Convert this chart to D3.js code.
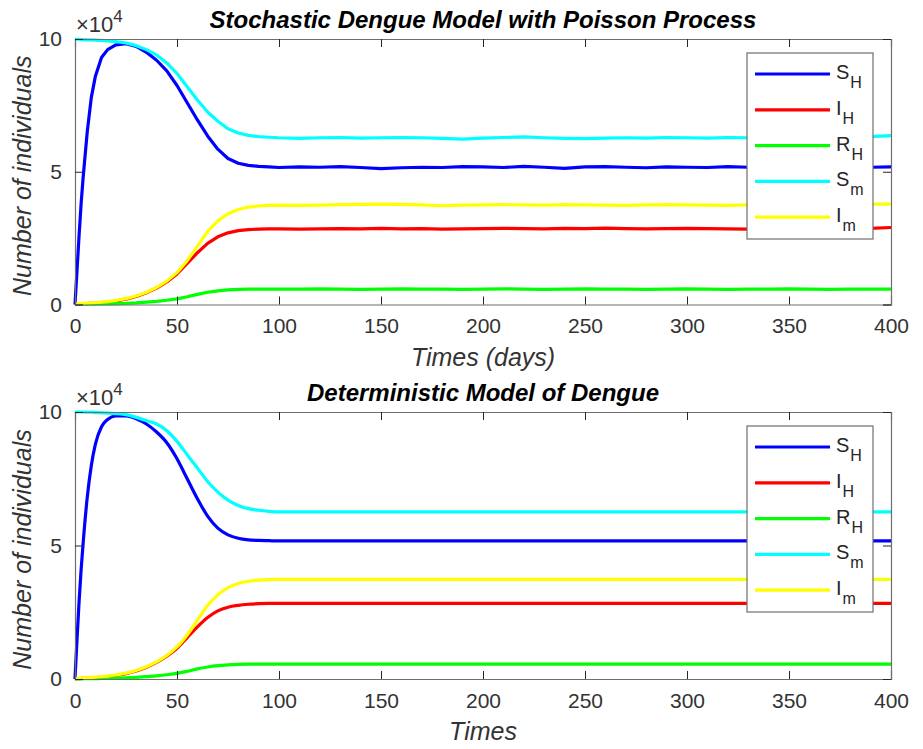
<!DOCTYPE html>
<html>
<head>
<meta charset="utf-8">
<title>Dengue models</title>
<script src="https://d3js.org/d3.v7.min.js"></script>
<style>
  body { margin: 0; background: #fff; }
  text { font-family: "Liberation Sans", Arial, Helvetica, sans-serif; }
</style>
</head>
<body>
<script>
// time grid (days)
var days = [0, 1, 2, 3, 4, 6, 8, 10, 13, 16, 20, 25, 30, 35, 40, 45, 50, 55, 60, 65, 70, 75, 80, 85, 90, 95,
  100, 110, 120, 130, 140, 150, 160, 170, 180, 190, 200, 210, 220, 230, 240, 250, 260, 270, 280, 290,
  300, 310, 320, 330, 340, 350, 360, 370, 380, 390, 400];

var xTicks = [0, 50, 100, 150, 200, 250, 300, 350, 400];
var yTicks = [0, 5, 10];

var seriesNames = ['S_H', 'I_H', 'R_H', 'S_m', 'I_m'];
var seriesColors = ['#0000ff', '#ff0000', '#00ff00', '#00ffff', '#ffff00'];

// stochastic model (x 10^4)
var stoSH = [0, 1.3, 2.6, 3.8, 4.8, 6.5, 7.8, 8.6, 9.3, 9.6, 9.78, 9.82, 9.72, 9.5, 9.2, 8.8, 8.25, 7.6, 6.95, 6.35, 5.85, 5.5, 5.32, 5.24, 5.2, 5.18,
  5.16, 5.18, 5.17, 5.19, 5.16, 5.12, 5.15, 5.17, 5.16, 5.19, 5.18, 5.16, 5.2, 5.17, 5.13, 5.18, 5.19, 5.17, 5.15, 5.18, 5.17, 5.16, 5.19, 5.17, 5.15, 5.18, 5.16, 5.17, 5.14, 5.17, 5.18];
var stoIH = [0, 0.01, 0.01, 0.02, 0.02, 0.03, 0.04, 0.05, 0.07, 0.09, 0.13, 0.2, 0.3, 0.44, 0.62, 0.85, 1.15, 1.55, 1.95, 2.3, 2.55, 2.7, 2.78, 2.82, 2.84, 2.85,
  2.85, 2.84, 2.85, 2.86, 2.85, 2.87, 2.85, 2.86, 2.84, 2.85, 2.86, 2.87, 2.86, 2.85, 2.87, 2.86, 2.88, 2.86, 2.85, 2.86, 2.87, 2.86, 2.85, 2.84, 2.85, 2.86, 2.87, 2.86, 2.85, 2.87, 2.9];
var stoRH = [0, 0, 0, 0, 0.01, 0.01, 0.01, 0.01, 0.02, 0.02, 0.03, 0.04, 0.06, 0.09, 0.12, 0.16, 0.21, 0.29, 0.38, 0.46, 0.51, 0.55, 0.57, 0.58, 0.58, 0.58,
  0.58, 0.58, 0.59, 0.58, 0.57, 0.58, 0.59, 0.58, 0.58, 0.57, 0.58, 0.59, 0.58, 0.57, 0.58, 0.59, 0.58, 0.58, 0.57, 0.58, 0.59, 0.58, 0.57, 0.58, 0.58, 0.59, 0.58, 0.57, 0.58, 0.58, 0.58];
var stoSm = [10, 9.99, 9.99, 9.98, 9.98, 9.97, 9.97, 9.96, 9.95, 9.93, 9.9, 9.85, 9.75, 9.6, 9.4, 9.1, 8.7, 8.2, 7.7, 7.25, 6.9, 6.62, 6.46, 6.37, 6.32, 6.3,
  6.28, 6.26, 6.28, 6.29, 6.27, 6.28, 6.29, 6.28, 6.26, 6.23, 6.27, 6.29, 6.31, 6.28, 6.26, 6.25, 6.27, 6.28, 6.27, 6.29, 6.28, 6.27, 6.29, 6.28, 6.27, 6.29, 6.28, 6.3, 6.31, 6.32, 6.36];
var stoIm = [0.02, 0.02, 0.03, 0.03, 0.04, 0.05, 0.06, 0.07, 0.09, 0.11, 0.15, 0.22, 0.32, 0.46, 0.64, 0.88, 1.2, 1.65, 2.2, 2.75, 3.15, 3.42, 3.58, 3.67, 3.71, 3.73,
  3.74, 3.73, 3.74, 3.76, 3.77, 3.78, 3.77, 3.75, 3.72, 3.74, 3.75, 3.76, 3.75, 3.74, 3.76, 3.75, 3.74, 3.73, 3.75, 3.76, 3.75, 3.74, 3.73, 3.75, 3.76, 3.75, 3.74, 3.76, 3.77, 3.78, 3.78];

// deterministic model (x 10^4)
var detSH = [0, 1.5, 2.9, 4.1, 5.1, 6.8, 8.0, 8.8, 9.45, 9.72, 9.85, 9.85, 9.75, 9.55, 9.25, 8.85, 8.25, 7.5, 6.75, 6.1, 5.65, 5.4, 5.27, 5.21, 5.19, 5.18,
  5.17, 5.17, 5.17, 5.17, 5.17, 5.17, 5.17, 5.17, 5.17, 5.17, 5.17, 5.17, 5.17, 5.17, 5.17, 5.17, 5.17, 5.17, 5.17, 5.17, 5.17, 5.17, 5.17, 5.17, 5.17, 5.17, 5.17, 5.17, 5.17, 5.17, 5.17];
var detIH = [0, 0.01, 0.01, 0.02, 0.02, 0.03, 0.04, 0.05, 0.07, 0.09, 0.13, 0.2, 0.3, 0.44, 0.62, 0.85, 1.15, 1.55, 1.95, 2.3, 2.55, 2.69, 2.76, 2.8, 2.82, 2.83,
  2.83, 2.83, 2.83, 2.83, 2.83, 2.83, 2.83, 2.83, 2.83, 2.83, 2.83, 2.83, 2.83, 2.83, 2.83, 2.83, 2.83, 2.83, 2.83, 2.83, 2.83, 2.83, 2.83, 2.83, 2.83, 2.83, 2.83, 2.83, 2.83, 2.83, 2.83];
var detRH = [0, 0, 0, 0, 0.01, 0.01, 0.01, 0.01, 0.02, 0.02, 0.03, 0.04, 0.06, 0.09, 0.12, 0.16, 0.21, 0.29, 0.38, 0.45, 0.5, 0.53, 0.55, 0.56, 0.56, 0.56,
  0.56, 0.56, 0.56, 0.56, 0.56, 0.56, 0.56, 0.56, 0.56, 0.56, 0.56, 0.56, 0.56, 0.56, 0.56, 0.56, 0.56, 0.56, 0.56, 0.56, 0.56, 0.56, 0.56, 0.56, 0.56, 0.56, 0.56, 0.56, 0.56, 0.56, 0.56];
var detSm = [10, 10, 10, 10, 10, 9.99, 9.99, 9.98, 9.97, 9.96, 9.94, 9.9, 9.8, 9.68, 9.55, 9.3, 8.9, 8.4, 7.9, 7.4, 7.0, 6.7, 6.5, 6.38, 6.32, 6.28,
  6.26, 6.26, 6.26, 6.26, 6.26, 6.26, 6.26, 6.26, 6.26, 6.26, 6.26, 6.26, 6.26, 6.26, 6.26, 6.26, 6.26, 6.26, 6.26, 6.26, 6.26, 6.26, 6.26, 6.26, 6.26, 6.26, 6.26, 6.26, 6.26, 6.26, 6.26];
var detIm = [0.02, 0.02, 0.03, 0.03, 0.04, 0.05, 0.06, 0.07, 0.09, 0.11, 0.15, 0.22, 0.32, 0.46, 0.64, 0.88, 1.2, 1.65, 2.2, 2.75, 3.15, 3.42, 3.58, 3.66, 3.7, 3.72,
  3.73, 3.73, 3.73, 3.73, 3.73, 3.73, 3.73, 3.73, 3.73, 3.73, 3.73, 3.73, 3.73, 3.73, 3.73, 3.73, 3.73, 3.73, 3.73, 3.73, 3.73, 3.73, 3.73, 3.73, 3.73, 3.73, 3.73, 3.73, 3.73, 3.73, 3.73];

var W = 923, H = 749;
var svg = d3.select('body').append('svg')
  .attr('width', W)
  .attr('height', H);

var axisColor = '#262626';
var boxColor = '#6e6e6e';

function drawPanel(cfg) {
  var x = d3.scaleLinear().domain([0, 400]).range([cfg.left, cfg.right]);
  var y = d3.scaleLinear().domain([0, 10]).range([cfg.bottom, cfg.top]);
  var g = svg.append('g');

  // lines
  var line = d3.line()
    .x(function(d) { return x(d[0]); })
    .y(function(d) { return y(d[1]); })
    .curve(cfg.curve);

  cfg.series.forEach(function(vals, i) {
    g.append('path')
      .datum(days.map(function(t, k) { return [t, vals[k]]; }))
      .attr('fill', 'none')
      .attr('stroke', seriesColors[i])
      .attr('stroke-width', 3.2)
      .attr('stroke-linejoin', 'round')
      .attr('d', line);
  });

  // axes (inward ticks, boxed)
  var tl = 8;
  var xb = g.append('g').attr('transform', 'translate(0,' + cfg.bottom + ')')
    .call(d3.axisBottom(x).tickValues(xTicks).tickSize(-tl).tickPadding(tl + 6).tickFormat(d3.format('d')));
  var xt = g.append('g').attr('transform', 'translate(0,' + cfg.top + ')')
    .call(d3.axisTop(x).tickValues(xTicks).tickSize(-tl).tickFormat(''));
  var yl = g.append('g').attr('transform', 'translate(' + cfg.left + ',0)')
    .call(d3.axisLeft(y).tickValues(yTicks).tickSize(-tl).tickPadding(tl + 5).tickFormat(d3.format('d')));
  var yr = g.append('g').attr('transform', 'translate(' + cfg.right + ',0)')
    .call(d3.axisRight(y).tickValues(yTicks).tickSize(-tl).tickFormat(''));

  [xb, xt, yl, yr].forEach(function(a) {
    a.select('.domain').attr('stroke', boxColor).attr('stroke-width', 1.2);
    a.selectAll('.tick line').attr('stroke', axisColor).attr('stroke-width', 1);
    a.selectAll('.tick text').attr('fill', '#333').style('font-size', '21px')
      .style('font-family', '"Liberation Sans", Arial, sans-serif');
  });

  // x10^4 exponent label
  var ex = g.append('text')
    .attr('x', cfg.left + 1)
    .attr('y', cfg.top - 7)
    .attr('fill', '#333')
    .style('font-size', '22px');
  ex.append('tspan').text('\u00d710');
  ex.append('tspan').attr('dy', -10).style('font-size', '17px').text('4');

  // title
  g.append('text')
    .attr('x', (cfg.left + cfg.right) / 2)
    .attr('y', cfg.top - 11)
    .attr('text-anchor', 'middle')
    .style('font-size', '24px')
    .style('font-weight', 'bold')
    .style('font-style', 'italic')
    .attr('fill', '#000')
    .text(cfg.title);

  // x label
  g.append('text')
    .attr('x', (cfg.left + cfg.right) / 2)
    .attr('y', cfg.bottom + 61)
    .attr('text-anchor', 'middle')
    .style('font-size', '25px')
    .style('font-style', 'italic')
    .attr('fill', '#333')
    .text(cfg.xlabel);

  // y label
  g.append('text')
    .attr('transform', 'translate(' + (cfg.left - 44) + ',' + ((cfg.top + cfg.bottom) / 2 + 4) + ') rotate(-90)')
    .attr('text-anchor', 'middle')
    .style('font-size', '25px')
    .style('font-style', 'italic')
    .attr('fill', '#333')
    .text('Number of individuals');

  // legend
  var lg = g.append('g').attr('transform', 'translate(' + cfg.legX + ',' + cfg.legY + ')');
  lg.append('rect')
    .attr('width', 126)
    .attr('height', 186)
    .attr('fill', '#fff')
    .attr('stroke', boxColor)
    .attr('stroke-width', 1.2);
  seriesNames.forEach(function(name, i) {
    var ry = 21 + i * 35.8;
    lg.append('line')
      .attr('x1', 8).attr('x2', 83)
      .attr('y1', ry).attr('y2', ry)
      .attr('stroke', seriesColors[i])
      .attr('stroke-width', 3.2);
    var parts = name.split('_');
    var t = lg.append('text')
      .attr('x', 89)
      .attr('y', ry + 5)
      .attr('fill', '#262626')
      .style('font-size', '20px');
    t.append('tspan').text(parts[0]);
    t.append('tspan').attr('dy', 9).attr('dx', 1).style('font-size', '16px').text(parts[1]);
  });
}

drawPanel({
  left: 75, right: 891, top: 39, bottom: 304.5,
  title: 'Stochastic Dengue Model with Poisson Process',
  xlabel: 'Times (days)',
  series: [stoSH, stoIH, stoRH, stoSm, stoIm],
  curve: d3.curveLinear,
  legX: 747, legY: 53
});

drawPanel({
  left: 75, right: 891, top: 412, bottom: 679,
  title: 'Deterministic Model of Dengue',
  xlabel: 'Times',
  series: [detSH, detIH, detRH, detSm, detIm],
  curve: d3.curveMonotoneX,
  legX: 747, legY: 426
});
</script>
</body>
</html>
